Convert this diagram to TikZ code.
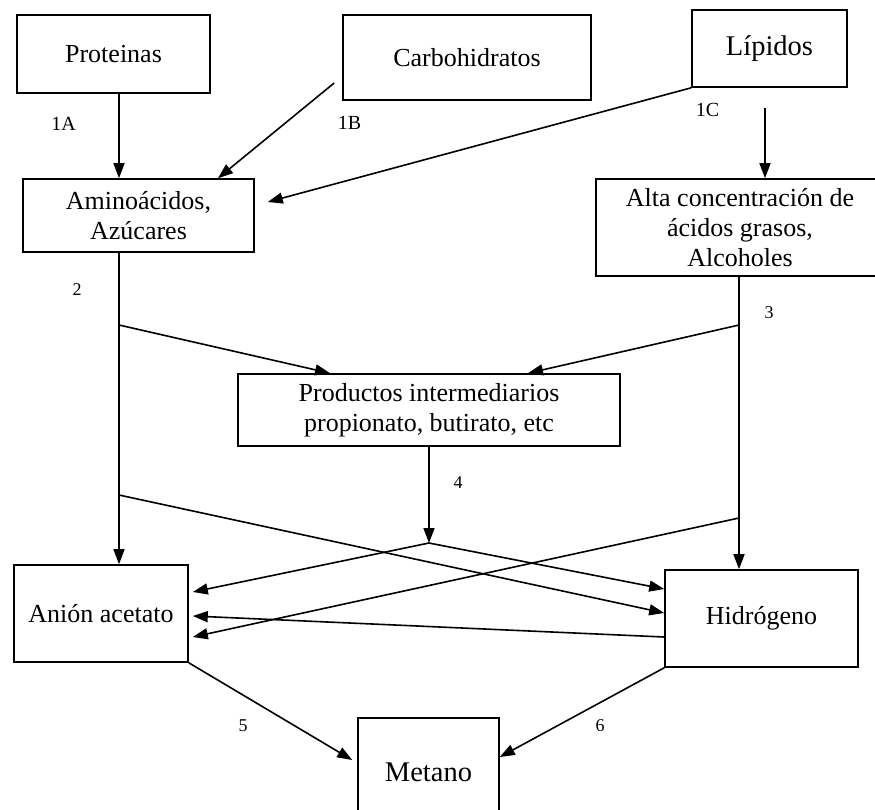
\documentclass[tikz,border=0pt]{standalone}
\usepackage{fontspec}
\setmainfont{Liberation Serif}
\usetikzlibrary{arrows.meta}
\tikzset{
	block/.style={draw, line width=1.6pt, align=center, inner sep=2pt, font=\fontsize{26}{30}\selectfont},
	bigblock/.style={block, font=\fontsize{28.5}{32}\selectfont},
	flow/.style={-{Triangle[length=15pt, width=11pt]}, line width=1.6pt},
	tag/.style={font=\fontsize{20}{22}\selectfont},
	num/.style={font=\fontsize{18}{20}\selectfont}
}

\begin{document}
\begin{tikzpicture}[x=1pt, y=-1pt]
	\useasboundingbox (0,0) rectangle (875,809);
	% sources
	\node[block, minimum width=193pt, minimum height=78pt] (prot) at (113.5,54) {Proteinas};
	\node[block, minimum width=248pt, minimum height=85pt] (carb) at (467,57.5) {Carbohidratos};
	\node[bigblock, minimum width=155pt, minimum height=77pt] (lip) at (769.5,48.5) {Lípidos};
	% hydrolysis products
	\node[block, minimum width=231pt, minimum height=73pt] (amino) at (138.5,215.5) {Aminoácidos,\\Azúcares};
	\node[block, minimum width=288pt, minimum height=97pt] (alta) at (740,227.5) {Alta concentración de\\ácidos grasos,\\Alcoholes};
	\node[block, minimum width=382pt, minimum height=72pt] (prod) at (429,410) {Productos intermediarios\\propionato, butirato, etc};
	% end products
	\node[block, minimum width=174pt, minimum height=97pt] (anion) at (101,613.5) {Anión acetato};
	\node[block, minimum width=193pt, minimum height=97pt] (hidro) at (761.5,618.5) {Hidrógeno};
	\node[bigblock, minimum width=141pt, minimum height=108pt] (metano) at (428.5,772) {Metano};
	% trunks and branch points
	\coordinate (ltrunk) at (119,0);
	\coordinate (rtrunk) at (739,0);
	\coordinate (lb1) at (119,325);
	\coordinate (lb2) at (119,495);
	\coordinate (rb1) at (739,325);
	\coordinate (rb2) at (739,518);
	\coordinate (mid) at (429,543);
	% step labels
	\node[tag] (l1a) at (63.5,124) {1A};
	\node[tag] (l1b) at (349.5,123) {1B};
	\node[tag] (l1c) at (707.5,110) {1C};
	\node[num] (l2) at (77,290) {2};
	\node[num] (l3) at (769,313) {3};
	\node[num] (l4) at (458,483) {4};
	\node[num] (l5) at (243,726) {5};
	\node[num] (l6) at (600,726) {6};
	% hydrolysis
	\draw[flow] (prot.south -| ltrunk) -- (amino.north -| ltrunk);
	\draw[flow] ([shift={(-8,25.5)}]carb.west) -- ([xshift=79.5pt]amino.north);
	\draw[flow] (lip.south west) -- ([shift={(13,-13.5)}]amino.east);
	\draw[flow] ([xshift=-4.5pt, yshift=-20pt]lip.south) -- ([xshift=25pt]alta.north);
	% acidogenesis
	\draw[flow] (amino.south -| ltrunk) -- (anion.north -| ltrunk);
	\draw[flow] (lb1) -- ([xshift=-99pt]prod.north);
	\draw[flow] (lb2) -- ([yshift=5.5pt]hidro.west);
	\draw[flow] (alta.south -| rtrunk) -- (hidro.north -| rtrunk);
	\draw[flow] (rb1) -- ([xshift=99pt]prod.north);
	\draw[flow] (rb2) -- ([xshift=4pt, yshift=-23.5pt]anion.east);
	% acetogenesis
	\draw[flow] (prod.south) -- (mid);
	\draw[flow] (mid) -- ([xshift=4pt, yshift=21.5pt]anion.east);
	\draw[flow] (mid) -- ([yshift=29.5pt]hidro.west);
	\draw[flow] ([yshift=-18.5pt]hidro.west) -- ([xshift=4pt, yshift=-2.5pt]anion.east);
	% methanogenesis
	\draw[flow] (anion.south east) -- ([xshift=-5pt, yshift=12pt]metano.west);
	\draw[flow] (hidro.south west) -- ([yshift=15pt]metano.east);
\end{tikzpicture}
\end{document}
